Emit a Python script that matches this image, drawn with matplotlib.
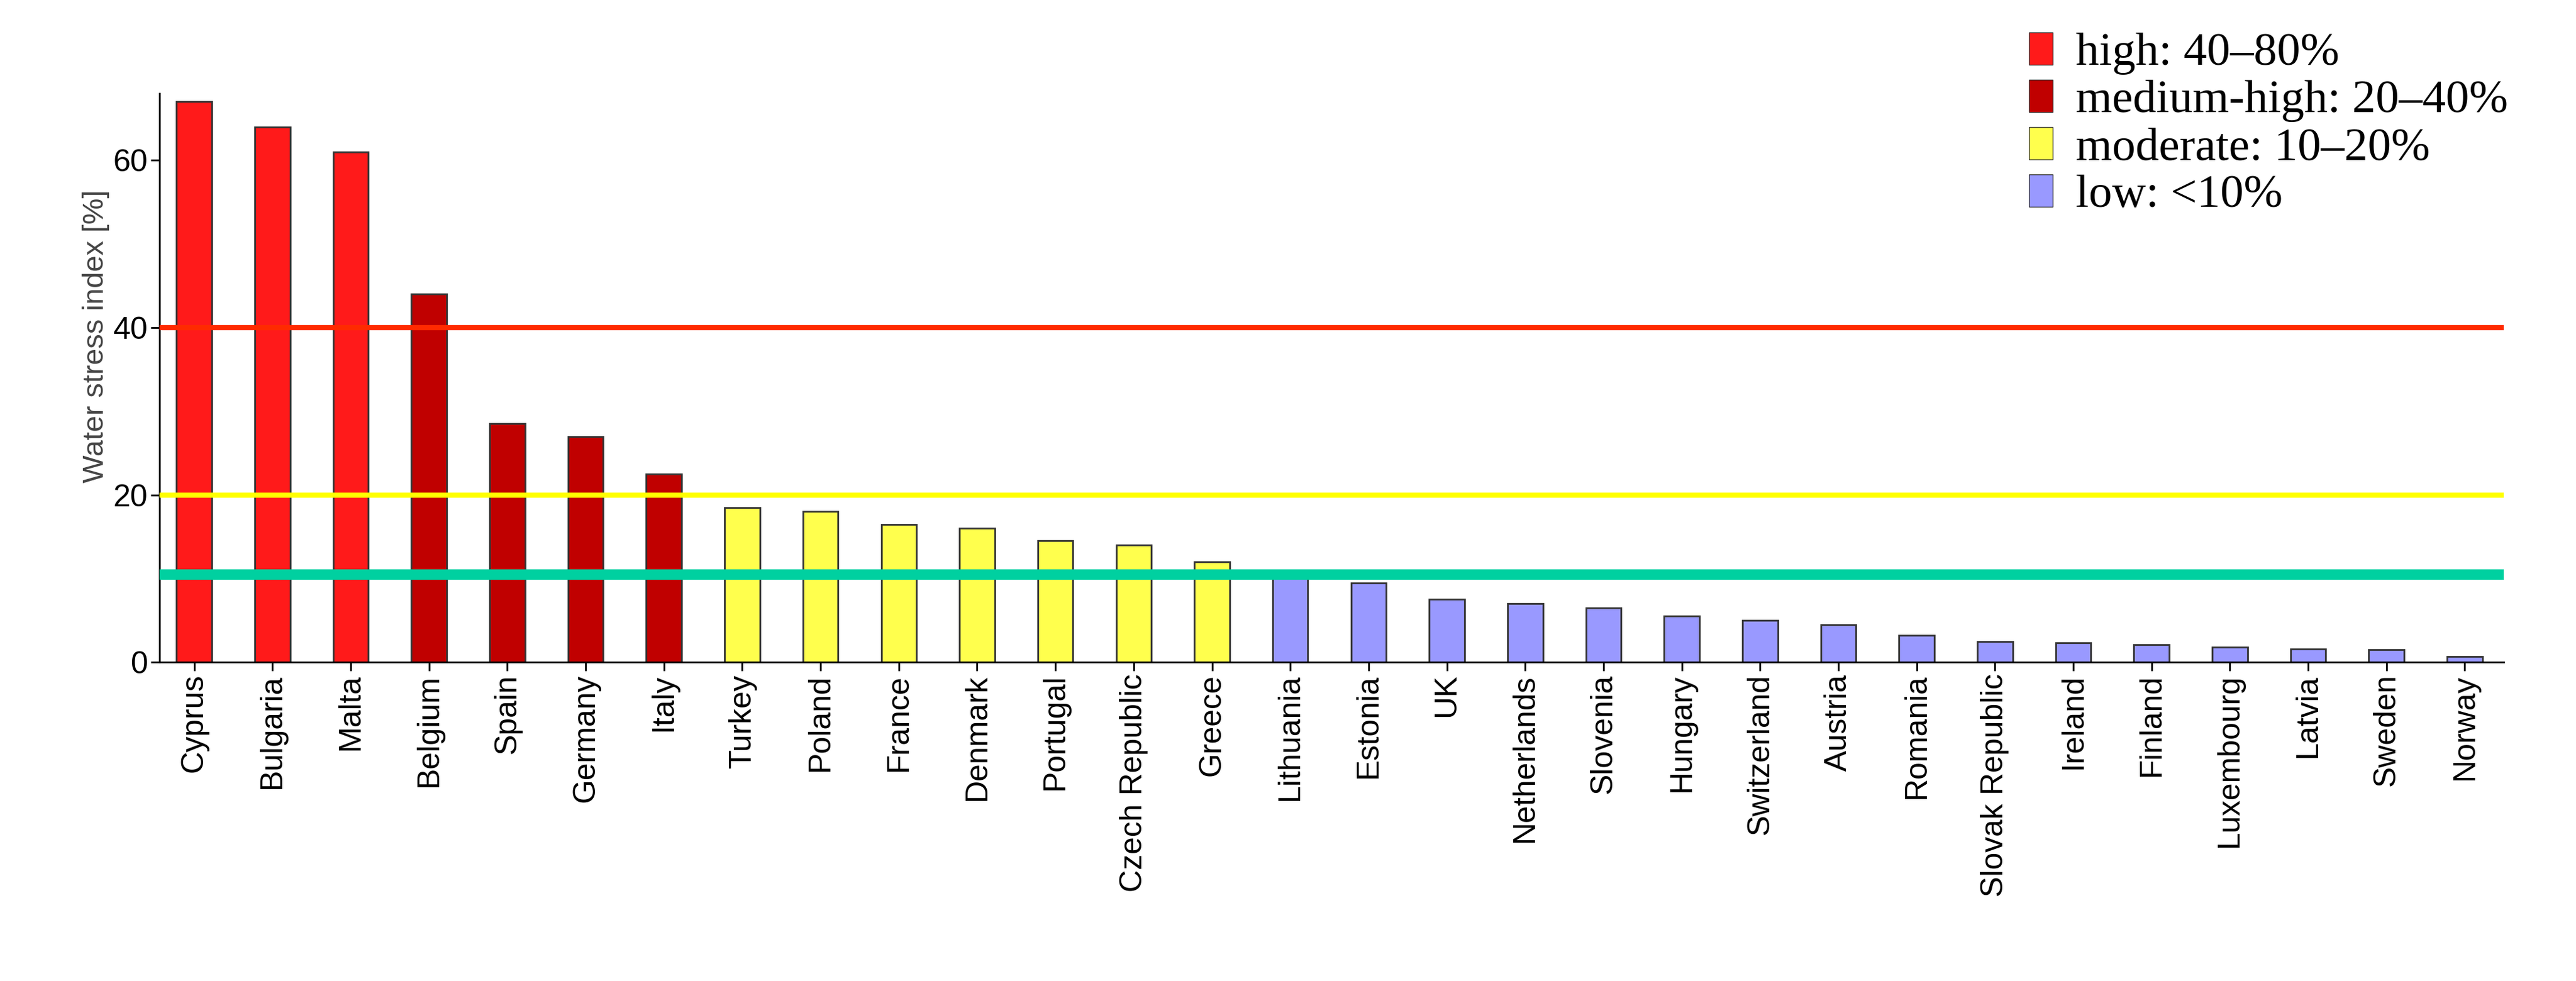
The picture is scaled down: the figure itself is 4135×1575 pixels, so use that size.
import matplotlib
matplotlib.use("Agg")
import matplotlib.pyplot as plt
from matplotlib.patches import Patch

countries = ["Cyprus","Bulgaria","Malta","Belgium","Spain","Germany","Italy","Turkey","Poland","France",
             "Denmark","Portugal","Czech Republic","Greece","Lithuania","Estonia","UK","Netherlands","Slovenia",
             "Hungary","Switzerland","Austria","Romania","Slovak Republic","Ireland","Finland","Luxembourg",
             "Latvia","Sweden","Norway"]
values = [67,64,61,44,28.5,27,22.5,18.5,18,16.5,16,14.5,14,12,10.5,9.5,7.5,7,6.5,5.5,5,4.5,3.2,2.5,2.3,2.1,1.8,1.6,1.5,0.7]
categories = ["high"]*3 + ["medhigh"]*4 + ["moderate"]*7 + ["low"]*16
colors = {"high":"#ff1a1a","medhigh":"#c00000","moderate":"#ffff4d","low":"#9999ff"}
legend_labels = ["high: 40\u201380%","medium-high: 20\u201340%","moderate: 10\u201320%","low: <10%"]
thresholds = [40,20,10.5]
threshold_colors = ["#ff2a00","#ffff00","#00d0a0"]
threshold_widths = [6,6,12]

plt.rcParams['font.family'] = ['Liberation Sans', 'DejaVu Sans']
fig = plt.figure(figsize=(41.35,15.75), dpi=100)
ax = fig.add_axes([0.062,0.325,0.91,0.665])
x = range(len(countries))
ax.bar(x, values, width=0.45, color=[colors[c] for c in categories], edgecolor="#333333", linewidth=2, zorder=2)
for t,c,w in zip(thresholds,threshold_colors,threshold_widths):
    ax.axhline(t,color=c,linewidth=w,zorder=3)
ax.set_xlim(-0.44,29.5)
ax.set_ylim(0,78)
ax.set_yticks([0,20,40,60])
ax.set_xticks(list(x))
ax.set_xticklabels(countries, rotation=90, fontsize=36)
ax.tick_params(axis="y", labelsize=36, length=10, width=2)
ax.tick_params(axis="x", length=10, width=2)
ax.set_ylabel("Water stress index [%]", fontsize=34, color="#444444")
for s in ["top","right"]:
    ax.spines[s].set_visible(False)
for s in ["left","bottom"]:
    ax.spines[s].set_linewidth(2)
ax.spines["left"].set_bounds(0, 68)
handles = [Patch(facecolor=colors[k], edgecolor="#333333") for k in ["high","medhigh","moderate","low"]]
fig.legend(handles, legend_labels, loc="upper right", bbox_to_anchor=(0.99,1.01), frameon=False,
           prop={"family":"Liberation Serif","size":54}, handlelength=0.5, handleheight=0.7, handletextpad=0.5,
           labelspacing=0.1)
fig.savefig("out.png", dpi=100)
